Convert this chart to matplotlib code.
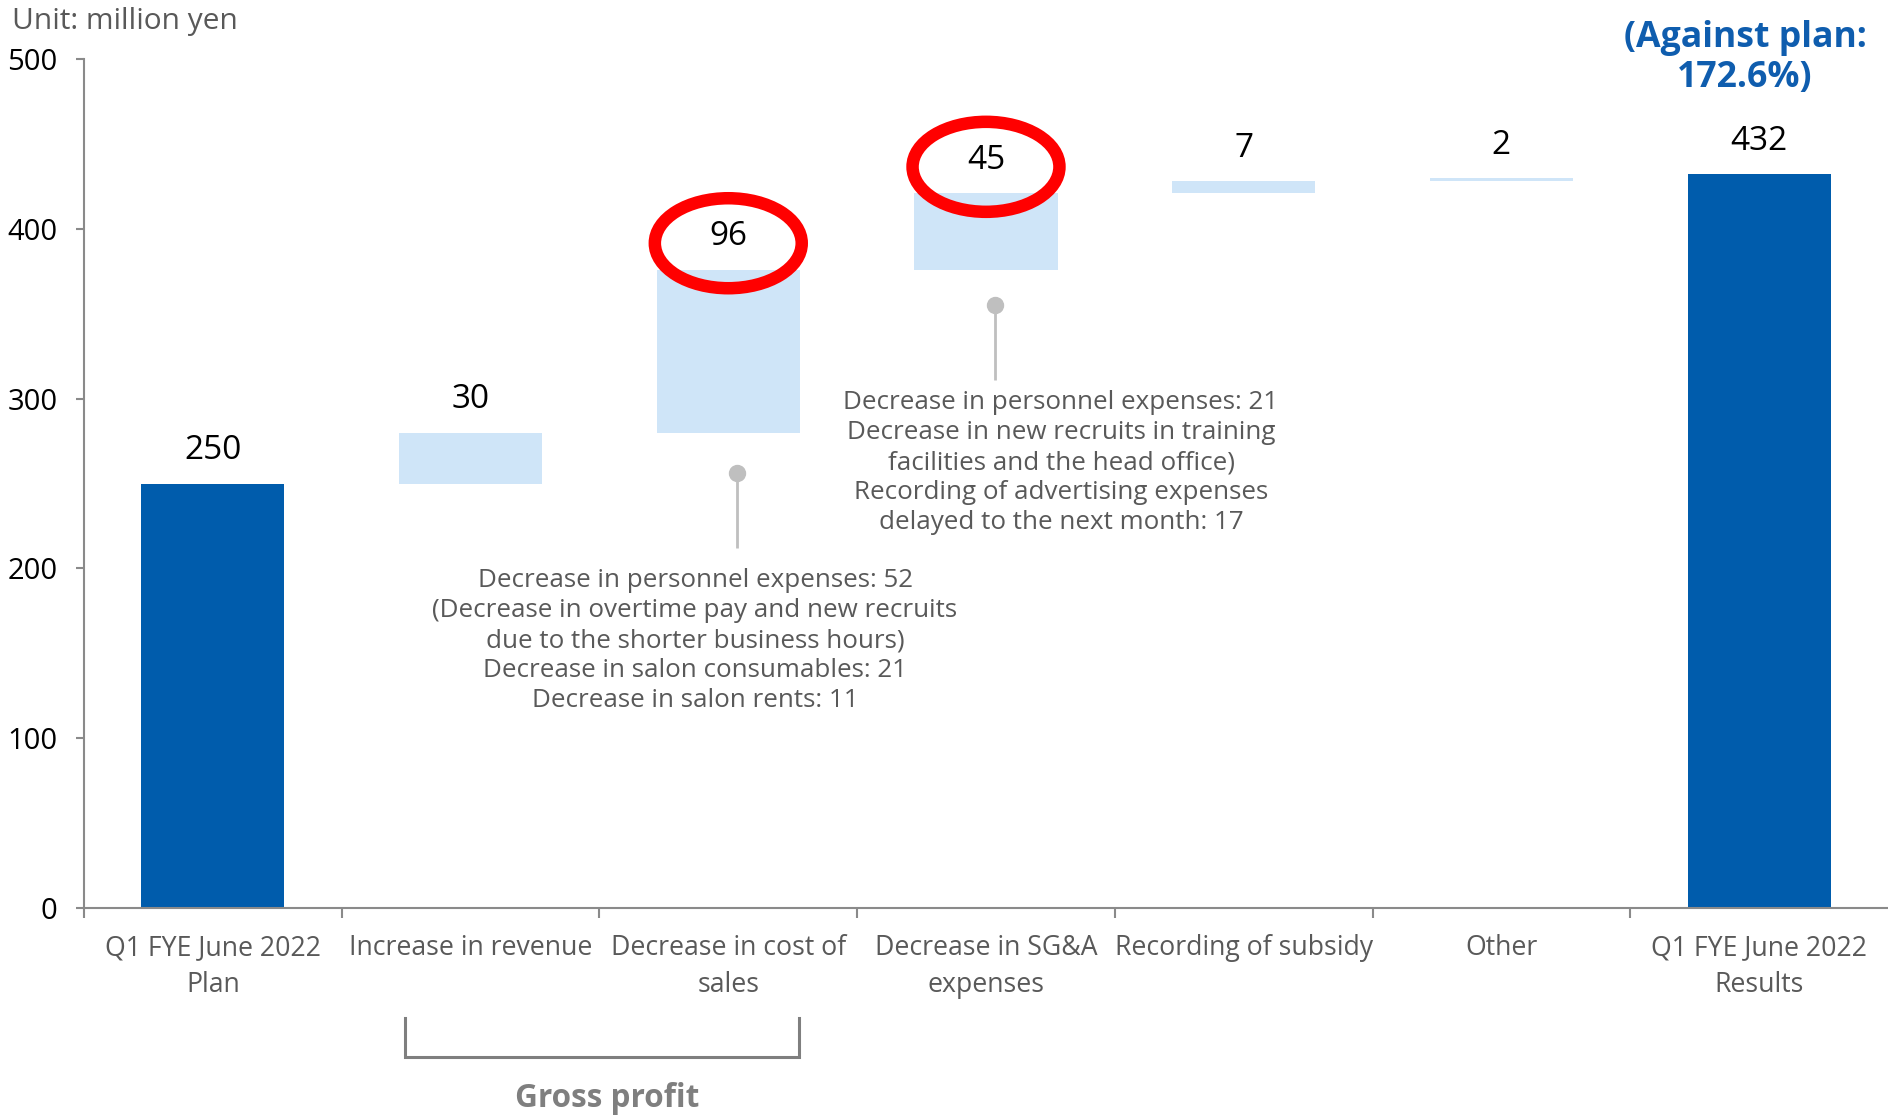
import matplotlib
matplotlib.use("Agg")
import matplotlib.pyplot as plt
from matplotlib.patches import Ellipse
from matplotlib.lines import Line2D
from matplotlib import transforms
import numpy as np

# ---- data -------------------------------------------------------------
categories = [
    "Q1 FYE June 2022\nPlan",
    "Increase in revenue",
    "Decrease in cost of\nsales",
    "Decrease in SG&A\nexpenses",
    "Recording of subsidy",
    "Other",
    "Q1 FYE June 2022\nResults",
]
plan_value = 250
deltas = [30, 96, 45, 7, 2]
result_value = 432
yticks = [0, 100, 200, 300, 400, 500]
highlighted = [2, 3]

notes_cost = [
    "Decrease in personnel expenses: 52",
    "(Decrease in overtime pay and new recruits",
    "due to the shorter business hours)",
    "Decrease in salon consumables: 21",
    "Decrease in salon rents: 11",
]
notes_sga = [
    "Decrease in personnel expenses: 21",
    "Decrease in new recruits in training",
    "facilities and the head office)",
    "Recording of advertising expenses",
    "delayed to the next month: 17",
]

# ---- style ------------------------------------------------------------
DARK = "#005CAC"
LIGHT = "#CFE5F8"
AXIS = "#8A8A8A"
TEXT_GRAY = "#595959"
NOTE_GRAY = "#BFBFBF"
BLUE_TEXT = "#0F5DAE"

plt.rcParams["font.family"] = ["Open Sans", "DejaVu Sans"]

W, H = 1888, 1115
fig = plt.figure(figsize=(W / 100, H / 100), dpi=100)
ax = fig.add_axes([84 / W, 1 - 908 / H, 1 - 84 / W, (908 - 59) / H])

x = np.arange(len(categories))
steps = plan_value + np.concatenate([[0], np.cumsum(deltas)])
bottoms = np.concatenate([[0], steps[:-1], [0]])
heights = np.concatenate([[plan_value], deltas, [result_value]])
colors = [DARK] + [LIGHT] * len(deltas) + [DARK]

ax.bar(x, heights, bottom=bottoms, width=0.555, color=colors, zorder=2)

tops = bottoms + heights
for xi, top, h in zip(x, tops, heights):
    ax.annotate(f"{h:g}", (xi, top), xytext=(0, 17.5), textcoords="offset points",
                ha="center", va="baseline", fontsize=24, color="black",
                annotation_clip=False)

# red rings around the two largest cost items
for i in highlighted:
    ax.add_patch(Ellipse((x[i], tops[i] + 15.5), width=0.57, height=53,
                         fill=False, edgecolor="#FF0000", lw=9, zorder=4,
                         clip_on=False))

ax.set_xlim(-0.5, len(categories) - 0.5)
ax.set_ylim(0, 500)

for side in ("top", "right"):
    ax.spines[side].set_visible(False)
for side in ("left", "bottom"):
    ax.spines[side].set_color(AXIS)
    ax.spines[side].set_linewidth(1.5)

ax.set_yticks(yticks)
ax.tick_params(axis="y", length=6, width=1.5, color=AXIS, pad=13,
               labelsize=21, labelcolor="black")

ax.set_xticks(x)
ax.set_xticklabels(categories, fontsize=19.2, color=TEXT_GRAY, linespacing=1.42)
ax.tick_params(axis="x", which="major", length=0, pad=18.5)
ax.set_xticks(np.arange(-0.5, len(categories) - 1), minor=True)
ax.tick_params(axis="x", which="minor", length=7, width=1.5, color=AXIS)

# leader lines with dots for the explanatory notes
for lx, y_dot, y_end in [(2.034, 256, 212), (3.035, 355, 311)]:
    ax.plot([lx, lx], [y_dot, y_end], color=NOTE_GRAY, lw=2, zorder=3,
            solid_capstyle="butt")
    ax.plot([lx], [y_dot], "o", ms=11.5, color=NOTE_GRAY, zorder=3)


def note_block(lines, cx, first_baseline, step=30):
    for k, line in enumerate(lines):
        fig.text(cx / W, 1 - (first_baseline + k * step) / H, line,
                 ha="center", va="baseline", fontsize=18.7, color=TEXT_GRAY)


note_block(notes_cost, 695, 587)
note_block(notes_sga, 1061, 409)

fig.text(12 / W, 1 - 29 / H, "Unit: million yen", ha="left", va="baseline",
         fontsize=21.5, color=TEXT_GRAY)

fig.text(1745 / W, 1 - 47 / H, "(Against plan:", ha="center", va="baseline",
         fontsize=25.7, fontweight="bold", color=BLUE_TEXT)
fig.text(1745 / W, 1 - 87 / H, "172.6%)", ha="center", va="baseline",
         fontsize=25.7, fontweight="bold", color=BLUE_TEXT)

# bracket grouping the gross-profit items
trans = transforms.blended_transform_factory(ax.transData, fig.transFigure)
bx0, bx1 = 0.746, 2.275
y_top, y_bot = 1 - 1018 / H, 1 - 1057 / H
fig.add_artist(Line2D([bx0, bx0, bx1, bx1], [y_top, y_bot, y_bot, y_top],
                      transform=trans, color="#7F7F7F", lw=2.2,
                      solid_joinstyle="miter"))
fig.text(607 / W, 1 - 1107 / H, "Gross profit", ha="center", va="baseline",
         fontsize=22.7, fontweight="bold", color="#7F7F7F")

fig.savefig("out.png", dpi=100)
